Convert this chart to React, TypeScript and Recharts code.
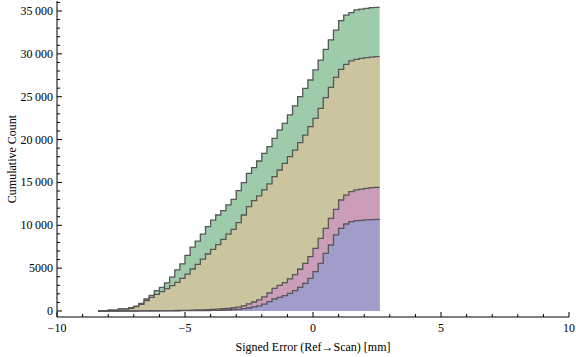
import { ComposedChart, Area, XAxis, YAxis } from "recharts";

// bin starts (mm), last entry closes the final step
const binStart = [
  -8.4, -8.2, -8.0, -7.8, -7.6, -7.4, -7.2, -7.0, -6.8, -6.6,
  -6.4, -6.2, -6.0, -5.8, -5.6, -5.4, -5.2, -5.0, -4.8, -4.6,
  -4.4, -4.2, -4.0, -3.8, -3.6, -3.4, -3.2, -3.0, -2.8, -2.6,
  -2.4, -2.2, -2.0, -1.8, -1.6, -1.4, -1.2, -1.0, -0.8, -0.6,
  -0.4, -0.2, 0.0, 0.2, 0.4, 0.6, 0.8, 1.0, 1.2, 1.4,
  1.6, 1.8, 2.0, 2.2, 2.4, 2.6,
];

const greenCum = [
  30, 30, 100, 100, 240, 250, 400, 580, 900, 1400,
  1830, 2370, 2760, 3270, 3960, 4800, 5500, 6500, 7450, 8150,
  8980, 9840, 10600, 11200, 11700, 12370, 13030, 14040, 14970, 16060,
  16720, 17500, 18400, 19170, 20150, 21120, 21900, 22870, 23920, 25000,
  25980, 26950, 28120, 29280, 30530, 31620, 32780, 33870, 34530, 34800,
  35120, 35230, 35310, 35390, 35430, 35430,
];

const tanCum = [
  20, 20, 90, 90, 220, 230, 320, 500, 780, 1200,
  1600, 1950, 2250, 2600, 2950, 3350, 3800, 4300, 4900, 5450,
  6060, 6650, 7200, 7750, 8350, 8980, 9530, 10300, 11200, 12170,
  12870, 13420, 14120, 14820, 15670, 16450, 17230, 18000, 18780, 19640,
  20530, 21500, 22480, 23650, 24890, 26100, 27260, 28200, 28780, 29170,
  29360, 29480, 29560, 29630, 29670, 29670,
];

const pinkCum = [
  0, 0, 0, 0, 10, 10, 10, 10, 20, 20,
  30, 30, 40, 40, 50, 60, 70, 80, 100, 120,
  140, 160, 190, 220, 260, 310, 380, 460, 600, 820,
  1050, 1300, 1650, 2100, 2650, 3000, 3300, 3750, 4250, 4870,
  5560, 6340, 7310, 8480, 9650, 10810, 11860, 12950, 13530, 13920,
  14120, 14230, 14310, 14390, 14430, 14430,
];

const blueCum = [
  0, 0, 0, 0, 0, 0, 0, 0, 5, 5,
  10, 10, 15, 20, 25, 30, 35, 40, 45, 50,
  55, 60, 65, 75, 90, 115, 150, 200, 270, 350,
  470, 600, 800, 1090, 1400, 1600, 1790, 2060, 2370, 2760,
  3230, 3810, 4590, 5560, 6730, 7700, 8870, 9650, 10150, 10420,
  10540, 10580, 10620, 10650, 10700, 10700,
];

const xTicks = [-10, -9, -8, -7, -6, -5, -4, -3, -2, -1, 0, 1, 2, 3, 4, 5, 6, 7, 8, 9, 10];
const yTicks = [
  0, 1000, 2000, 3000, 4000, 5000, 6000, 7000, 8000, 9000,
  10000, 11000, 12000, 13000, 14000, 15000, 16000, 17000, 18000, 19000,
  20000, 21000, 22000, 23000, 24000, 25000, 26000, 27000, 28000, 29000,
  30000, 31000, 32000, 33000, 34000, 35000, 36000,
];

const data = binStart.map((x, i) => ({
  x,
  green: greenCum[i],
  tan: tanCum[i],
  pink: pinkCum[i],
  blue: blueCum[i],
}));

const FONT = "'Liberation Serif', 'Times New Roman', serif";
const STROKE = "#565656";

const fmtX = (v: number) => (v < 0 ? "\u2212" + Math.abs(v) : String(v));
const fmtY = (v: number) =>
  v >= 10000 ? String(Math.floor(v / 1000)) + "\u2009" + String(v % 1000).padStart(3, "0") : String(v);

// ticks point into the frame, like Mathematica
const BottomTick = (props: any) => {
  const { x, y, payload } = props;
  const major = payload.value % 5 === 0;
  return (
    <g>
      <line x1={x} x2={x} y1={y} y2={y - (major ? 5 : 3)} stroke="#000" />
      {major && (
        <text x={x} y={y + 15} textAnchor="middle" fontFamily={FONT} fontSize={12} fill="#000">
          {fmtX(payload.value)}
        </text>
      )}
    </g>
  );
};

const TopTick = (props: any) => {
  const { x, y, payload } = props;
  const major = payload.value % 5 === 0;
  return <line x1={x} x2={x} y1={y} y2={y + (major ? 5 : 3)} stroke="#000" />;
};

const LeftTick = (props: any) => {
  const { x, y, payload } = props;
  const major = payload.value % 5000 === 0;
  return (
    <g>
      <line x1={x} x2={x + (major ? 5 : 3)} y1={y} y2={y} stroke="#000" />
      {major && payload.value <= 35000 && (
        <text x={x - 4} y={y + 4} textAnchor="end" fontFamily={FONT} fontSize={12} fill="#000">
          {fmtY(payload.value)}
        </text>
      )}
    </g>
  );
};

const RightTick = (props: any) => {
  const { x, y, payload } = props;
  const major = payload.value % 5000 === 0;
  return <line x1={x} x2={x - (major ? 5 : 3)} y1={y} y2={y} stroke="#000" />;
};

export default function App() {
  return (
    <div style={{ position: "absolute", left: 0, top: 0, width: 576, height: 357, background: "#fff" }}>
      <ComposedChart
        width={576}
        height={357}
        data={data}
        margin={{ top: 1, right: 7, bottom: 0, left: 0 }}
      >
        <XAxis
          dataKey="x"
          type="number"
          domain={[-10, 10]}
          ticks={xTicks}
          interval={0}
          allowDataOverflow
          height={40}
          tickSize={0}
          tickMargin={0}
          tick={<BottomTick />}
          axisLine={{ stroke: "#000" }}
          label={{ value: "Signed Error (Ref\u2192Scan) [mm]", position: "insideBottom", offset: 6, fontFamily: FONT, fontSize: 12, fill: "#000" }}
        />
        <XAxis
          xAxisId="top"
          orientation="top"
          dataKey="x"
          type="number"
          domain={[-10, 10]}
          ticks={xTicks}
          interval={0}
          allowDataOverflow
          height={0}
          tickSize={0}
          tickMargin={0}
          tick={<TopTick />}
          axisLine={{ stroke: "#000" }}
        />
        <YAxis
          type="number"
          domain={[-700, 36167]}
          ticks={yTicks}
          interval={0}
          allowDataOverflow
          width={57}
          tickSize={0}
          tickMargin={0}
          tick={<LeftTick />}
          axisLine={{ stroke: "#000" }}
          label={{ value: "Cumulative Count", angle: -90, position: "insideLeft", offset: 12, style: { textAnchor: "middle" }, fontFamily: FONT, fontSize: 12, fill: "#000" }}
        />
        <YAxis
          yAxisId="right"
          orientation="right"
          type="number"
          domain={[-700, 36167]}
          ticks={yTicks}
          interval={0}
          allowDataOverflow
          width={0}
          tickSize={0}
          tickMargin={0}
          tick={<RightTick />}
          axisLine={{ stroke: "#000" }}
        />
        <Area type="stepAfter" dataKey="green" fill="#9ecbaa" fillOpacity={1} stroke={STROKE} strokeWidth={1.3} isAnimationActive={false} />
        <Area type="stepAfter" dataKey="tan" fill="#cbc59f" fillOpacity={1} stroke={STROKE} strokeWidth={1.3} isAnimationActive={false} />
        <Area type="stepAfter" dataKey="pink" fill="#cb9db9" fillOpacity={1} stroke={STROKE} strokeWidth={1.3} isAnimationActive={false} />
        <Area type="stepAfter" dataKey="blue" fill="#a09dcb" fillOpacity={1} stroke={STROKE} strokeWidth={1.3} isAnimationActive={false} />
      </ComposedChart>
    </div>
  );
}
